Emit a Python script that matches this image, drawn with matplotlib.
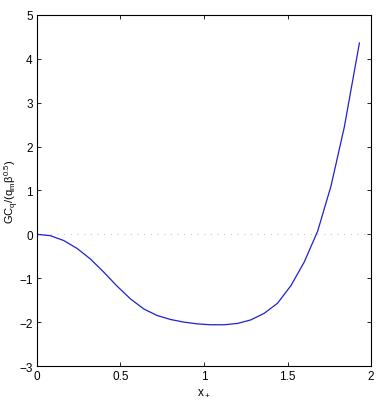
import matplotlib
matplotlib.use("Agg")
import matplotlib.pyplot as plt

# curve values
x_plus = [0, 0.08, 0.16, 0.24, 0.32, 0.40, 0.48, 0.56, 0.64, 0.72, 0.80, 0.88, 0.96,
          1.04, 1.12, 1.20, 1.28, 1.36, 1.44, 1.52, 1.60, 1.68, 1.76, 1.84, 1.93]
gc_q = [0, -0.03, -0.14, -0.32, -0.56, -0.86, -1.18, -1.47, -1.70, -1.85, -1.94, -2.00, -2.04,
        -2.06, -2.06, -2.03, -1.95, -1.80, -1.57, -1.17, -0.63, 0.07, 1.10, 2.45, 4.36]
xticks = [0, 0.5, 1, 1.5, 2]
xtick_labels = ["0", "0.5", "1", "1.5", "2"]
yticks = [-3, -2, -1, 0, 1, 2, 3, 4, 5]
ytick_labels = ["\u22123", "\u22122", "\u22121", "0", "1", "2", "3", "4", "5"]

plt.rcParams['font.family'] = ['Liberation Sans', 'DejaVu Sans']
plt.rcParams['mathtext.fontset'] = 'custom'
plt.rcParams['mathtext.rm'] = 'Liberation Sans'
plt.rcParams['mathtext.it'] = 'Liberation Sans'

fig = plt.figure(figsize=(3.76, 4.06), dpi=100)
ax = fig.add_axes([0.098, 0.096, 0.889, 0.865])

ax.axhline(0, color="#c8c8c8", linestyle=(0, (1, 5)), linewidth=0.8)
ax.plot(x_plus, gc_q, color="#2020d0", linewidth=0.9)

ax.set_xlim(0, 2)
ax.set_ylim(-3, 5)
ax.set_xticks(xticks)
ax.set_xticklabels(xtick_labels)
ax.set_yticks(yticks)
ax.set_yticklabels(ytick_labels)
ax.tick_params(direction="in", length=3, width=0.6, labelsize=8.5, top=True, right=True,
               labeltop=False, labelright=False, pad=3)
for s in ax.spines.values():
    s.set_linewidth(0.8)

ax.set_xlabel(r"x$_+$", fontsize=8.5, labelpad=3)
ax.set_ylabel(r"GC$_q$/(q$_m$$\beta^{0.5}$)", fontsize=8)
ax.yaxis.set_label_coords(-0.048, 0.5)

fig.savefig("out.png", dpi=100)
